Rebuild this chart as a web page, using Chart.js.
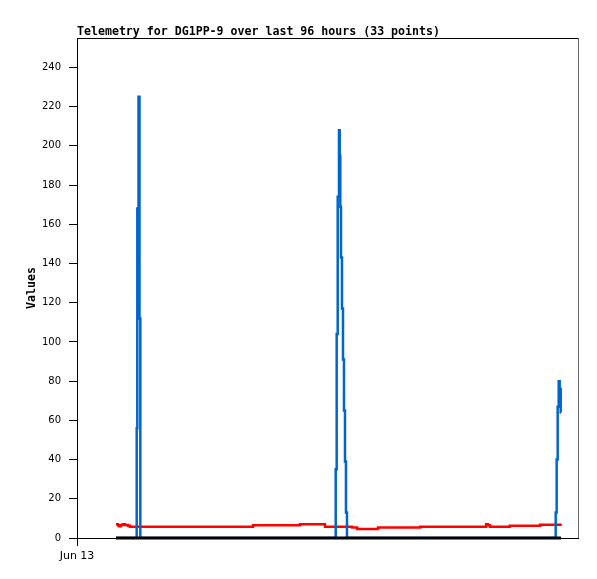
<!DOCTYPE html>
<html>
<head>
<meta charset="utf-8">
<script src="https://cdn.jsdelivr.net/npm/chart.js@4"></script>
<style>
  html, body { margin: 0; padding: 0; background: #fff; }
  #wrap { width: 597px; height: 579px; }
</style>
</head>
<body>
<div id="wrap"><canvas id="telemetryChart" width="597" height="579"></canvas></div>
<script>
// hours since Jun 13 00:00
const blueHours = [8.41, 12.78, 12.87, 13.0, 13.26, 13.47, 13.65, 55.72, 55.77, 55.98, 56.2, 56.48, 56.63, 56.76, 56.91, 57.12, 57.34, 57.55, 57.77, 57.98, 58.2, 103.14, 103.19, 103.4, 103.62, 103.84, 104.05, 104.27, 104.32];
const blueValues = [0, 0, 56, 168, 225, 112, 0, 0, 35, 104, 174, 208, 195, 169, 143, 117, 91, 65, 39, 13, 0, 0, 13, 40, 67, 80, 76, 64, 64];

const redHours = [8.41, 8.84, 9.05, 9.48, 9.91, 10.35, 11.0, 11.4, 37.94, 48.07, 53.46, 59.3, 60.4, 64.9, 74.0, 88.2, 88.6, 89.0, 93.3, 99.8, 104.5];
const redValues = [7.0, 6.5, 6.0, 6.6, 7.0, 6.6, 6.2, 5.8, 6.5, 7.0, 5.8, 5.3, 4.6, 5.3, 5.8, 7.0, 6.5, 5.8, 6.3, 6.8, 6.8];

const blackHours = [8.41, 104.32];
const blackValues = [0, 0];

const xTicks = [0];
const xTickLabels = ['Jun 13'];
const yTicks = [0, 20, 40, 60, 80, 100, 120, 140, 160, 180, 200, 220, 240];

const toPoints = (xs, ys) => xs.map((x, i) => ({ x: x, y: ys[i] }));

const framePlugin = {
    id: 'frame',
    afterDraw(chart) {
        const { ctx, chartArea: a } = chart;
        ctx.save();
        ctx.lineWidth = 1;
        ctx.strokeStyle = '#000';
        ctx.beginPath();
        ctx.moveTo(a.left, a.top + 0.5);
        ctx.lineTo(a.right, a.top + 0.5);
        ctx.stroke();
        ctx.strokeStyle = '#666';
        ctx.beginPath();
        ctx.moveTo(a.right + 0.5, a.top);
        ctx.lineTo(a.right + 0.5, a.bottom);
        ctx.stroke();
        ctx.restore();
    }
};

const monoBold = { family: '"DejaVu Sans Mono", monospace', size: 11.6, weight: 'bold', lineHeight: 1 };
const tickFont = { family: '"DejaVu Sans", sans-serif', size: 10 };

new Chart(document.getElementById('telemetryChart').getContext('2d'), {
    type: 'line',
    data: {
        datasets: [
            { label: 'zero', data: toPoints(blackHours, blackValues), borderColor: '#000', borderWidth: 3, pointRadius: 0, clip: false, order: 0 },
            { label: 'red', data: toPoints(redHours, redValues), borderColor: '#ff0000', borderWidth: 2.5, pointRadius: 0, stepped: true, order: 2 },
            { label: 'blue', data: toPoints(blueHours, blueValues), borderColor: '#0066cc', borderWidth: 2.5, pointRadius: 0, stepped: true, order: 1 }
        ]
    },
    options: {
        responsive: false,
        animation: false,
        layout: { padding: { left: 0, right: 19, top: 0, bottom: 0 } },
        plugins: {
            legend: { display: false },
            tooltip: { enabled: false },
            title: {
                display: true,
                text: 'Telemetry for DG1PP-9 over last 96 hours (33 points)',
                align: 'start',
                fullSize: false,
                color: '#000',
                font: monoBold,
                padding: { top: 26, bottom: 0.4 }
            }
        },
        scales: {
            x: {
                type: 'linear',
                min: 0,
                max: 108,
                afterBuildTicks: (axis) => { axis.ticks = xTicks.map(v => ({ value: v })); },
                afterFit: (axis) => { axis.height = 41; },
                ticks: {
                    color: '#000',
                    font: { family: '"DejaVu Sans", sans-serif', size: 11 },
                    padding: 4,
                    maxRotation: 0,
                    callback: (v) => xTickLabels[xTicks.indexOf(v)]
                },
                grid: { drawOnChartArea: false, tickLength: 8, color: '#000' },
                border: { color: '#000' }
            },
            y: {
                min: 0,
                max: 255,
                afterBuildTicks: (axis) => { axis.ticks = yTicks.map(v => ({ value: v })); },
                afterFit: (axis) => { axis.width = 77; },
                ticks: { color: '#000', font: tickFont, padding: 8 },
                grid: { drawOnChartArea: false, tickLength: 8, color: '#000' },
                border: { color: '#000' },
                title: { display: true, text: 'Values', color: '#000', font: monoBold, padding: { top: 26, bottom: 0 } }
            }
        }
    },
    plugins: [framePlugin]
});
</script>
</body>
</html>
